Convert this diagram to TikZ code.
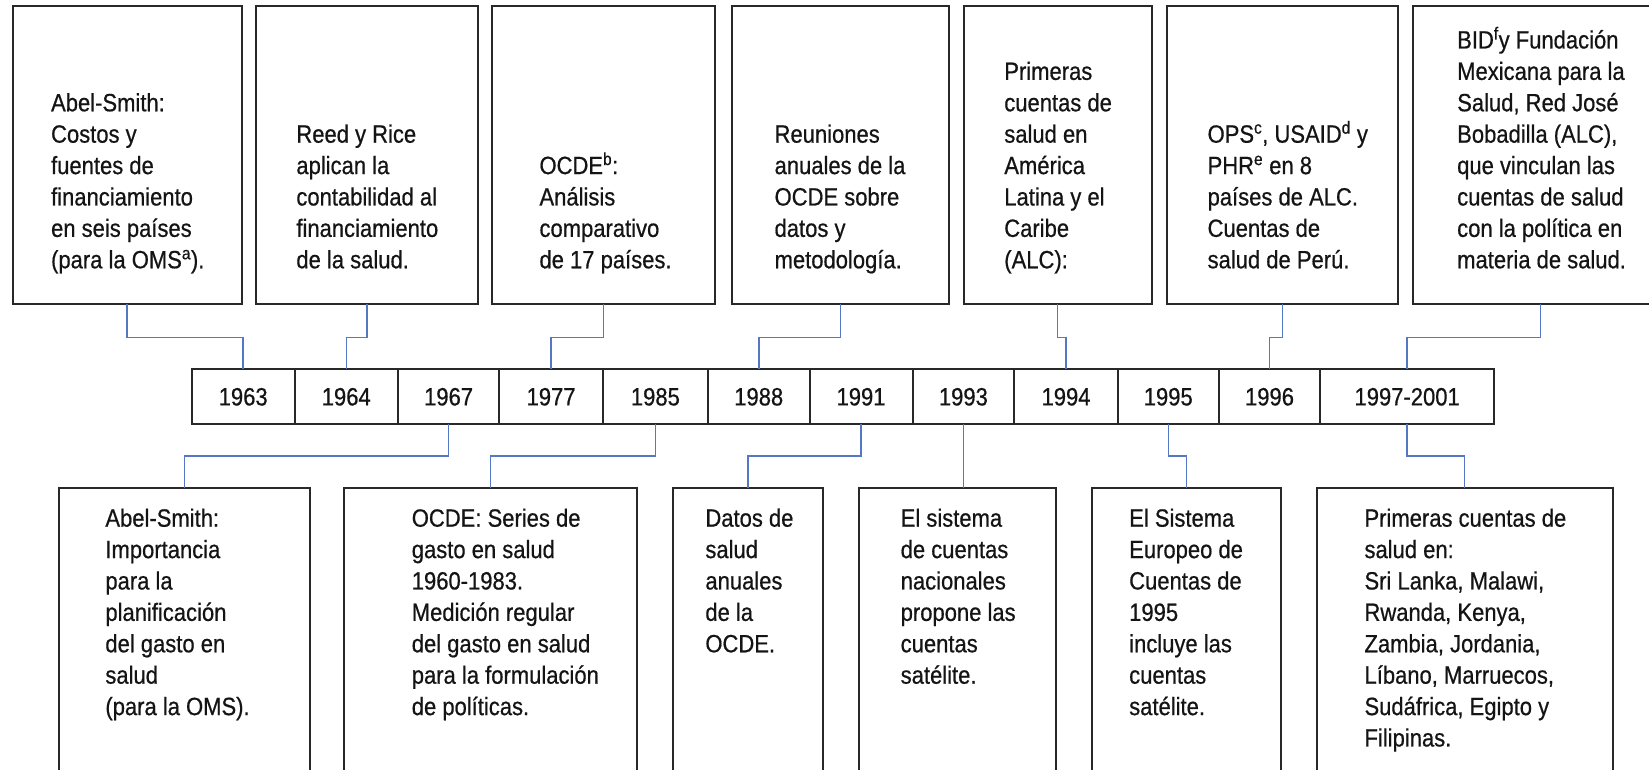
\documentclass[tikz,border=0pt]{standalone}
\usepackage{fontspec}
\setmainfont{Liberation Sans}[FakeStretch=0.88, FakeBold=0.6]
\usetikzlibrary{calc}
\definecolor{conncol}{RGB}{84,120,196}
\definecolor{boxcol}{RGB}{40,40,40}
\definecolor{txtcol}{RGB}{20,20,20}
\begin{document}
\begin{tikzpicture}[x=1pt,y=-1pt,
  boxline/.style={draw=boxcol, line width=2pt},
  tbox/.style={boxline, inner sep=0pt, outer sep=0pt, minimum height=298.3pt},
  bbox/.style={inner sep=0pt, outer sep=0pt, minimum height=281.7pt},
  cell/.style={boxline, inner sep=0pt, outer sep=0pt, minimum height=55pt,
    font=\fontsize{25}{31.4}\selectfont, text=txtcol},
  txt/.style={inner sep=0pt, outer sep=0pt, align=left,
    font=\fontsize{25}{31.4}\selectfont, text=txtcol},
  conn/.style={draw=conncol, line width=1.5pt}
]
\useasboundingbox (0,0) rectangle (1649,770);
\coordinate (redge) at (1649,0);

% top boxes
\node[tbox, minimum width=229.3pt] (t1) at (127.15,155.15) {};
\node[tbox, minimum width=221.1pt] (t2) at (366.95,155.15) {};
\node[tbox, minimum width=222.9pt] (t3) at (603.55,155.15) {};
\node[tbox, minimum width=217.1pt] (t4) at (840.35,155.15) {};
\node[tbox, minimum width=188.1pt] (t5) at (1057.65,155.15) {};
\node[tbox, minimum width=231.4pt] (t6) at (1282.3,155.15) {};
\node[inner sep=0pt, outer sep=0pt, minimum height=298.3pt, minimum width=255.4pt] (t7) at (1540.3,155.15) {};
\draw[boxline] (t7.north west -| redge) -- (t7.north west) -- (t7.south west) -- (t7.south west -| redge);

% top texts (bottom aligned, last baseline 268.3)
\node[txt, anchor=south west] (x1) at (51.1,277.7) {Abel-Smith:\\Costos y\\fuentes de\\financiamiento\\en seis países\\(para la OMS\textsuperscript{a}).\strut};
\node[txt, anchor=south west] (x2) at (296.4,277.7) {Reed y Rice\\aplican la\\contabilidad al\\financiamiento\\de la salud.\strut};
\node[txt, anchor=south west] (x3) at (539.5,277.7) {OCDE\textsuperscript{b}:\\Análisis\\comparativo\\de 17 países.\strut};
\node[txt, anchor=south west] (x4) at (774.6,277.7) {Reuniones\\anuales de la\\OCDE sobre\\datos y\\metodología.\strut};
\node[txt, anchor=south west] (x5) at (1004.3,277.7) {Primeras\\cuentas de\\salud en\\América\\Latina y el\\Caribe\\(ALC):\strut};
\node[txt, anchor=south west] (x6) at (1207.6,277.7) {OPS\textsuperscript{c}, USAID\textsuperscript{d} y\\PHR\textsuperscript{e} en 8\\países de ALC.\\Cuentas de\\salud de Perú.\strut};
\node[txt, anchor=south west] (x7) at (1457.2,277.7) {BID\textsuperscript{f}y Fundación\\Mexicana para la\\Salud, Red José\\Bobadilla (ALC),\\que vinculan las\\cuentas de salud\\con la política en\\materia de salud.\strut};

% timeline
\node[cell, minimum width=102.8pt] (y1963) at (243.2,396.8) {1963};
\node[cell, minimum width=103.3pt] (y1964) at (346.25,396.8) {1964};
\node[cell, minimum width=101.4pt] (y1967) at (448.6,396.8) {1967};
\node[cell, minimum width=103.6pt] (y1977) at (551.1,396.8) {1977};
\node[cell, minimum width=105pt] (y1985) at (655.4,396.8) {1985};
\node[cell, minimum width=101.7pt] (y1988) at (758.75,396.8) {1988};
\node[cell, minimum width=102.9pt] (y1991) at (861.05,396.8) {1991};
\node[cell, minimum width=101.8pt] (y1993) at (963.4,396.8) {1993};
\node[cell, minimum width=103.5pt] (y1994) at (1066.05,396.8) {1994};
\node[cell, minimum width=100.9pt] (y1995) at (1168.25,396.8) {1995};
\node[cell, minimum width=101.6pt] (y1996) at (1269.5,396.8) {1996};
\node[cell, minimum width=173.7pt] (y1997) at (1407.15,396.8) {1997-2001};

% bottom boxes (open at the bottom edge)
\node[bbox, minimum width=251.8pt] (b1) at (184.5,629.15) {};
\node[bbox, minimum width=292.5pt] (b2) at (490.55,629.15) {};
\node[bbox, minimum width=150pt] (b3) at (748.2,629.15) {};
\node[bbox, minimum width=196.8pt] (b4) at (957.3,629.15) {};
\node[bbox, minimum width=188.9pt] (b5) at (1186.25,629.15) {};
\node[bbox, minimum width=295.9pt] (b6) at (1464.65,629.15) {};
\foreach \b in {b1,b2,b3,b4,b5,b6}{
  \draw[boxline] (\b.south west) -- (\b.north west) -- (\b.north east) -- (\b.south east);
}

% bottom texts (top aligned, first baseline 526.7)
\node[txt, anchor=north west] (z1) at (105.4,504.7) {\strut Abel-Smith:\\Importancia\\para la\\planificación\\del gasto en\\salud\\(para la OMS).};
\node[txt, anchor=north west] (z2) at (411.8,504.7) {\strut OCDE: Series de\\gasto en salud\\1960-1983.\\Medición regular\\del gasto en salud\\para la formulación\\de políticas.};
\node[txt, anchor=north west] (z3) at (705.4,504.7) {\strut Datos de\\salud\\anuales\\de la\\OCDE.};
\node[txt, anchor=north west] (z4) at (900.7,504.7) {\strut El sistema\\de cuentas\\nacionales\\propone las\\cuentas\\satélite.};
\node[txt, anchor=north west] (z5) at (1129.2,504.7) {\strut El Sistema\\Europeo de\\Cuentas de\\1995\\incluye las\\cuentas\\satélite.};
\node[txt, anchor=north west] (z6) at (1364.5,504.7) {\strut Primeras cuentas de\\salud en:\\Sri Lanka, Malawi,\\Rwanda, Kenya,\\Zambia, Jordania,\\Líbano, Marruecos,\\Sudáfrica, Egipto y\\Filipinas.};

% connectors top
\draw[conn] (t1.south) -- ++(0,33.2) -| (y1963.north);
\draw[conn] (t2.south) -- ++(0,33.2) -| (y1964.north);
\draw[conn] (t3.south) -- ++(0,33.2) -| (y1977.north);
\draw[conn] (t4.south) -- ++(0,33.2) -| (y1988.north);
\draw[conn] (t5.south) -- ++(0,33.2) -| (y1994.north);
\draw[conn] (t6.south) -- ++(0,33.2) -| (y1996.north);
\draw[conn] (t7.south) -- ++(0,33.2) -| (y1997.north);

% connectors bottom
\draw[conn] (y1967.south) -- ++(0,31.7) -| (b1.north);
\draw[conn] (y1985.south) -- ++(0,31.7) -| (b2.north);
\draw[conn] (y1991.south) -- ++(0,31.7) -| (b3.north);
\draw[conn] (y1993.south) -- (y1993.south |- b4.north);
\draw[conn] (y1995.south) -- ++(0,31.7) -| (b5.north);
\draw[conn] (y1997.south) -- ++(0,31.7) -| (b6.north);
\end{tikzpicture}
\end{document}
